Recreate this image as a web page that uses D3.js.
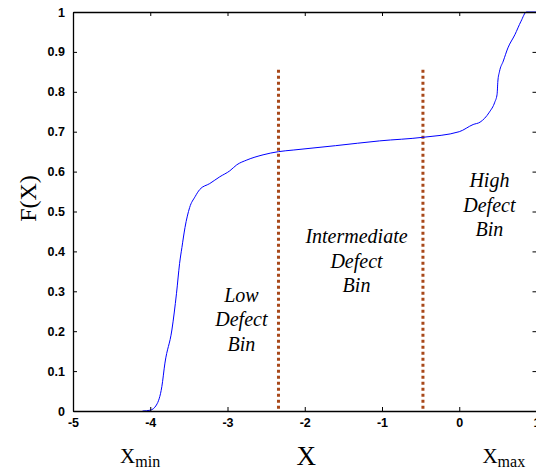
<!DOCTYPE html>
<html>
<head>
<meta charset="utf-8">
<script src="https://cdn.jsdelivr.net/npm/d3@7"></script>
<style>
  body { margin: 0; background: #fff; }
  svg { display: block; }
</style>
</head>
<body>
<div id="chartContainer"></div>
<script>
const xValues = [-4.1, -4.0, -3.92, -3.85, -3.81, -3.72, -3.66, -3.62, -3.59, -3.55, -3.49, -3.42, -3.36,
  -3.23, -3.10, -2.97, -2.88, -2.75, -2.54, -2.34, -2.15, -1.6, -1.03, -0.47, 0.0, 0.18, 0.27, 0.39, 0.46,
  0.49, 0.50, 0.52, 0.57, 0.63, 0.72, 0.80, 0.87, 1.0];
const fValues = [0, 0.002, 0.015, 0.061, 0.12, 0.203, 0.295, 0.37, 0.41, 0.46, 0.51, 0.537, 0.555,
  0.57, 0.587, 0.602, 0.617, 0.629, 0.642, 0.65, 0.654, 0.665, 0.677, 0.686, 0.70, 0.718, 0.724, 0.749, 0.774,
  0.794, 0.827, 0.85, 0.877, 0.91, 0.943, 0.977, 1.0, 1.0];

const xTicks = [-5, -4, -3, -2, -1, 0, 1];
const yTicks = [0, 0.1, 0.2, 0.3, 0.4, 0.5, 0.6, 0.7, 0.8, 0.9, 1];

// bin boundaries (dotted lines) and labels
const binEdges = [-2.34, -0.47];
const binTop = 0.855;
const binLabels = [
  { x: -2.82, f: 0.274, lines: ["Low", "Defect", "Bin"] },
  { x: -1.33, f: 0.42, lines: ["Intermediate", "Defect", "Bin"] },
  { x: 0.39, f: 0.561, lines: ["High", "Defect", "Bin"] }
];

const chartWidth = 536;
const chartHeight = 472;
const margin = { top: 12, right: 0, bottom: 61, left: 73 };
const width = chartWidth - margin.left - margin.right + 0.5;
const height = chartHeight - margin.top - margin.bottom;

const serif = "'Liberation Serif', 'Times New Roman', serif";
const sans = "'Liberation Sans', Arial, sans-serif";

const svg = d3.select("#chartContainer").append("svg")
  .attr("width", chartWidth)
  .attr("height", chartHeight)
  .append("g")
  .attr("transform", `translate(${margin.left}, ${margin.top})`);

const xScale = d3.scaleLinear().domain([-5, 1]).range([0, width]);
const yScale = d3.scaleLinear().domain([0, 1]).range([height, 0]);

// dotted bin separators
svg.selectAll(".bin-edge")
  .data(binEdges)
  .enter().append("line")
  .attr("class", "bin-edge")
  .attr("x1", d => xScale(d))
  .attr("x2", d => xScale(d))
  .attr("y1", yScale(binTop))
  .attr("y2", yScale(0))
  .attr("stroke", "#a8481a")
  .attr("stroke-width", 3)
  .attr("stroke-dasharray", "3,3");

// CDF curve
const points = xValues.map((x, i) => [x, fValues[i]]);
svg.append("path")
  .datum(points)
  .attr("fill", "none")
  .attr("stroke", "#0000ff")
  .attr("stroke-width", 1)
  .attr("d", d3.line().curve(d3.curveMonotoneX).x(d => xScale(d[0])).y(d => yScale(d[1])));

// axes on all four sides, ticks pointing inward
const styleAxis = g => {
  g.selectAll("path").attr("stroke", "#000").attr("stroke-width", 1.3);
  g.selectAll("line").attr("stroke", "#000");
  g.selectAll("text")
    .style("font-family", sans)
    .style("font-weight", "bold")
    .style("font-size", "12.5px")
    .attr("fill", "#000");
};

svg.append("g")
  .attr("transform", `translate(0, ${height})`)
  .call(d3.axisBottom(xScale).tickValues(xTicks).tickSizeInner(-4).tickSizeOuter(0).tickPadding(7).tickFormat(d => String(d)))
  .call(styleAxis);

svg.append("g")
  .call(d3.axisTop(xScale).tickValues(xTicks).tickSizeInner(-4).tickSizeOuter(0).tickFormat(""))
  .call(styleAxis);

svg.append("g")
  .call(d3.axisLeft(yScale).tickValues(yTicks).tickSizeInner(-4).tickSizeOuter(0).tickPadding(8).tickFormat(d => d === 0 || d === 1 ? String(d) : d3.format(".1f")(d)))
  .call(styleAxis);

svg.append("g")
  .attr("transform", `translate(${width}, 0)`)
  .call(d3.axisRight(yScale).tickValues(yTicks).tickSizeInner(-4).tickSizeOuter(0).tickFormat(""))
  .call(styleAxis);

// bin labels
binLabels.forEach(b => {
  const t = svg.append("text")
    .attr("text-anchor", "middle")
    .style("font-family", serif)
    .style("font-style", "italic")
    .style("font-size", "20px")
    .attr("fill", "#000");
  b.lines.forEach((line, i) => {
    t.append("tspan")
      .attr("x", xScale(b.x))
      .attr("y", yScale(b.f) + i * 24.5)
      .text(line);
  });
});

// axis titles
svg.append("text")
  .attr("transform", `translate(-37, ${yScale(0.5) - 13}) rotate(-90)`)
  .attr("text-anchor", "middle")
  .style("font-family", serif)
  .style("font-size", "24px")
  .text("F(X)");

svg.append("text")
  .attr("x", xScale(-1.98))
  .attr("y", height + 54)
  .attr("text-anchor", "middle")
  .style("font-family", serif)
  .style("font-size", "27px")
  .text("X");

const subLabel = (xVal, sub) => {
  const t = svg.append("text")
    .attr("x", xScale(xVal))
    .attr("y", height + 52)
    .style("font-family", serif)
    .style("font-size", "21px")
    .text("X");
  t.append("tspan")
    .attr("dy", 4)
    .style("font-size", "16px")
    .text(sub);
};
subLabel(-4.39, "min");
subLabel(0.30, "max");
</script>
</body>
</html>
